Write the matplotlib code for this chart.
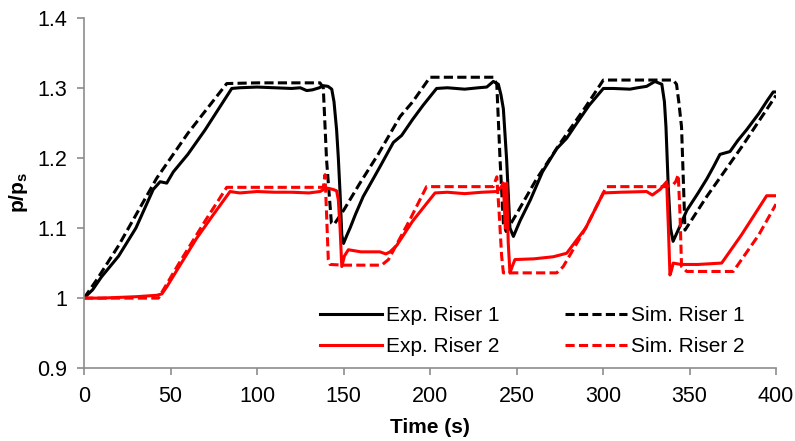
import matplotlib
matplotlib.use("Agg")
import matplotlib.pyplot as plt
from matplotlib.ticker import FuncFormatter

# values
t_exp1 = [0, 5, 10, 20, 30, 40, 44, 47.8, 51.6, 60, 70, 85.4, 90, 100, 110, 120, 125, 128.7,
          132, 136, 138.3, 141, 143.2, 144.5, 146, 147, 148, 149, 150, 152, 153.8, 157, 161.4,
          166, 171, 175, 178.8, 183.6, 190, 196, 203.8, 210, 220, 228, 232.8, 236.6, 239.5,
          241, 242.4, 244.3, 246.2, 248.2, 252, 258, 265, 273.2, 279, 285, 292, 300.2, 306,
          315.6, 320, 325.2, 330, 334, 335.5, 336.4, 337.7, 339, 340.5, 344, 348.4, 355, 360,
          363.8, 367.6, 373.4, 378, 383, 390, 395, 398.4, 400]
p_exp1 = [1.0, 1.012, 1.03, 1.06, 1.10, 1.155, 1.166, 1.164, 1.18, 1.205, 1.24, 1.299, 1.30,
          1.301, 1.30, 1.299, 1.30, 1.296, 1.297, 1.30, 1.303, 1.302, 1.298, 1.28, 1.24, 1.20,
          1.15, 1.09, 1.078, 1.09, 1.10, 1.12, 1.145, 1.165, 1.187, 1.205, 1.222, 1.232, 1.255,
          1.275, 1.299, 1.30, 1.298, 1.30, 1.301, 1.309, 1.305, 1.29, 1.27, 1.197, 1.10, 1.088,
          1.11, 1.14, 1.18, 1.213, 1.228, 1.25, 1.275, 1.299, 1.299, 1.298, 1.30, 1.302, 1.309,
          1.305, 1.28, 1.244, 1.16, 1.10, 1.081, 1.10, 1.125, 1.15, 1.17, 1.187, 1.205, 1.209,
          1.225, 1.24, 1.263, 1.282, 1.294, 1.294]

t_sim1 = [0, 7.3, 20, 42, 60, 82.5, 100, 120, 136.4, 138.3, 140.2, 143, 144.5, 150, 159.5, 170,
          182.7, 190, 200, 215, 236.6, 238.6, 240.5, 242.4, 244, 250, 261.6, 275, 290, 300.2,
          320, 340.6, 342.5, 343.8, 345.4, 347.4, 360, 380, 400]
p_sim1 = [1.0, 1.026, 1.075, 1.171, 1.235, 1.306, 1.307, 1.307, 1.307, 1.30, 1.197, 1.107,
          1.105, 1.125, 1.164, 1.205, 1.259, 1.28, 1.315, 1.315, 1.315, 1.305, 1.197, 1.107,
          1.095, 1.12, 1.17, 1.22, 1.273, 1.311, 1.311, 1.311, 1.305, 1.28, 1.244, 1.097,
          1.145, 1.215, 1.289]

t_exp2 = [0, 10, 20, 30, 42, 45, 47.8, 55, 65, 75, 84.4, 90, 100, 110, 120, 130, 136.4, 140.2,
          144, 146, 147, 148, 149, 150.5, 152.8, 160, 171, 174.5, 176.9, 180.7, 190, 202.9, 210,
          220, 230, 238.6, 241, 242.4, 243.5, 244.3, 245.2, 246.2, 247.5, 249.1, 260, 271.3,
          279, 290, 300.2, 310, 325.2, 328.5, 333, 336.8, 337.8, 338.7, 339.6, 340.6, 345, 355,
          368.6, 380, 394.6, 400]
p_exp2 = [1.0, 1.0, 1.001, 1.002, 1.004, 1.006, 1.016, 1.045, 1.085, 1.12, 1.152, 1.15, 1.152,
          1.151, 1.151, 1.15, 1.152, 1.157, 1.155, 1.153, 1.14, 1.10, 1.045, 1.06, 1.069, 1.066,
          1.066, 1.063, 1.066, 1.075, 1.11, 1.150, 1.151, 1.149, 1.151, 1.152, 1.158, 1.164,
          1.10, 1.164, 1.08, 1.036, 1.045, 1.055, 1.056, 1.059, 1.064, 1.10, 1.15, 1.151, 1.152,
          1.147, 1.155, 1.166, 1.10, 1.033, 1.04, 1.05, 1.048, 1.048, 1.05, 1.09, 1.146, 1.146]

t_sim2 = [0, 20, 43, 55, 70, 82.5, 100, 120, 138.3, 139.3, 140.2, 141.2, 142.2, 150, 160, 172,
          176, 188, 198, 215, 236.6, 238.6, 240, 241.4, 242.4, 250, 265, 273.2, 277, 290, 302,
          320, 336.8, 340.6, 342, 343.5, 344.5, 345.4, 348.4, 360, 375.3, 390, 400]
p_sim2 = [1.0, 1.0, 1.0, 1.05, 1.11, 1.158, 1.158, 1.158, 1.158, 1.176, 1.12, 1.055, 1.048,
          1.047, 1.047, 1.047, 1.055, 1.11, 1.159, 1.159, 1.159, 1.173, 1.12, 1.06, 1.036,
          1.036, 1.036, 1.036, 1.045, 1.10, 1.159, 1.159, 1.159, 1.162, 1.166, 1.176, 1.12,
          1.045, 1.038, 1.038, 1.038, 1.09, 1.134]

x_ticks = [0, 50, 100, 150, 200, 250, 300, 350, 400]
y_ticks = [0.9, 1.0, 1.1, 1.2, 1.3, 1.4]

plt.rcParams['font.family'] = ['Liberation Sans', 'DejaVu Sans']
plt.rcParams['mathtext.fontset'] = 'custom'
plt.rcParams['mathtext.rm'] = 'Liberation Sans'
plt.rcParams['mathtext.bf'] = 'Liberation Sans:bold'

fig = plt.figure(figsize=(7.95, 4.41), dpi=100)
ax = fig.add_axes([0.1057, 0.165, 0.8704, 0.795])

lw = 2.2
dash = (3.0, 1.4)
l1, = ax.plot(t_exp1, p_exp1, color='black', lw=lw, label='Exp. Riser 1')
l2, = ax.plot(t_sim1, p_sim1, color='black', lw=lw, ls='--', dashes=dash, label='Sim. Riser 1')
l3, = ax.plot(t_exp2, p_exp2, color='#ff0000', lw=lw, label='Exp. Riser 2')
l4, = ax.plot(t_sim2, p_sim2, color='#ff0000', lw=lw, ls='--', dashes=dash, label='Sim. Riser 2')

ax.set_xlim(0, 400)
ax.set_ylim(0.9, 1.4)
ax.set_xticks(x_ticks)
ax.set_yticks(y_ticks)
ax.yaxis.set_major_formatter(FuncFormatter(lambda v, pos: f"{v:g}"))

for s in ['top', 'right']:
    ax.spines[s].set_visible(False)
for s in ['left', 'bottom']:
    ax.spines[s].set_color('#8c8c8c')
    ax.spines[s].set_linewidth(1.2)
ax.tick_params(axis='both', direction='out', length=5, width=1.2, color='#8c8c8c',
               labelsize=15.5, labelcolor='black')
ax.tick_params(axis='y', pad=7)
ax.tick_params(axis='x', pad=8)

ax.set_xlabel('Time (s)', fontsize=15, fontweight='bold')
ax.set_ylabel(r'$\mathbf{p/p_s}$', fontsize=15)
ax.xaxis.set_label_coords(0.5, -0.142)
ax.yaxis.set_label_coords(-0.078, 0.5)

ax.legend(handles=[l1, l3, l2, l4], ncol=2, loc='lower right', bbox_to_anchor=(0.982, -0.02),
          frameon=False, fontsize=15, handlelength=3.0, handletextpad=0.2,
          columnspacing=3.1, labelspacing=0.59)

fig.savefig('out.png', dpi=100)
